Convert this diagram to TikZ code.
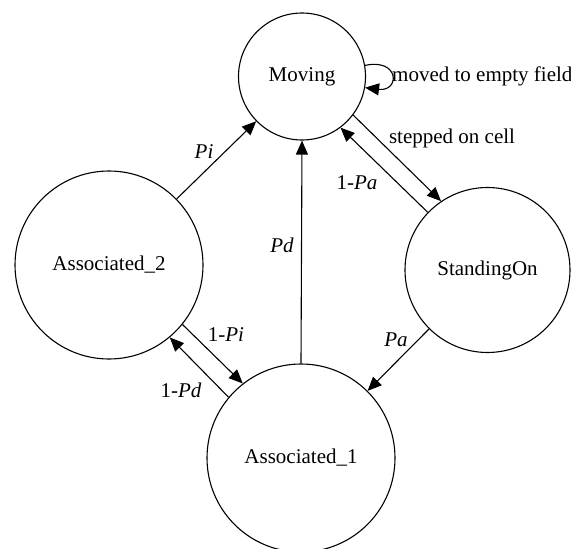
\documentclass[tikz,border=0pt]{standalone}
\usepackage{fontspec}
\setmainfont{Liberation Serif}
\usetikzlibrary{arrows.meta}
\begin{document}
\begin{tikzpicture}[x=1pt,y=-1pt,
  state/.style={circle,draw,line width=1.1pt,inner sep=0pt,font=\fontsize{21}{25}\selectfont},
  lbl/.style={inner sep=0pt,font=\fontsize{21}{25}\selectfont},
  edge/.style={line width=1.1pt,-{Triangle[length=14pt,width=12pt]}}]
\useasboundingbox (0,0) rectangle (571,549);
\node[state,minimum size=127pt] (M) at (302,76.5) {Moving};
\node[state,minimum size=165pt] (S) at (487.5,270) {StandingOn};
\node[state,minimum size=188pt] (A2) at (109,265) {Associated\_2};
\node[state,minimum size=188pt] (A1) at (301,458) {Associated\_1};
% self loop
\draw[edge] (M.10) .. controls (400,58) and (400,92) .. (M.-10);
\node[lbl,anchor=west] (lmv) at (392,76) {moved to empty field};
% Moving <-> StandingOn
\draw[edge] (M.-37.6) -- (S.124.5);
\node[lbl] (lst) at (452,138) {stepped on cell};
\draw[edge] (S.136.1) -- (M.-53);
\node[lbl] (l1pa) at (357,183) {1-\textit{Pa}};
% StandingOn -> Associated_1
\draw[edge] (S) -- (A1);
\node[lbl] (lpa) at (396,340) {\textit{Pa}};
% Associated_1 -> Moving
\draw[edge] (A1.90) -- (M.-90);
\node[lbl] (lpd) at (282,245) {\textit{Pd}};
% Associated_2 -> Moving
\draw[edge] (A2) -- (M);
\node[lbl] (lpi) at (204,152) {\textit{Pi}};
% Associated_2 <-> Associated_1
\draw[edge] (A2.-39.7) -- (A1.128.2);
\node[lbl] (l1pi) at (226,335) {1-\textit{Pi}};
\draw[edge] (A1.140.5) -- (A2.-50.9);
\node[lbl] (l1pd) at (181,390) {1-\textit{Pd}};
\end{tikzpicture}
\end{document}
